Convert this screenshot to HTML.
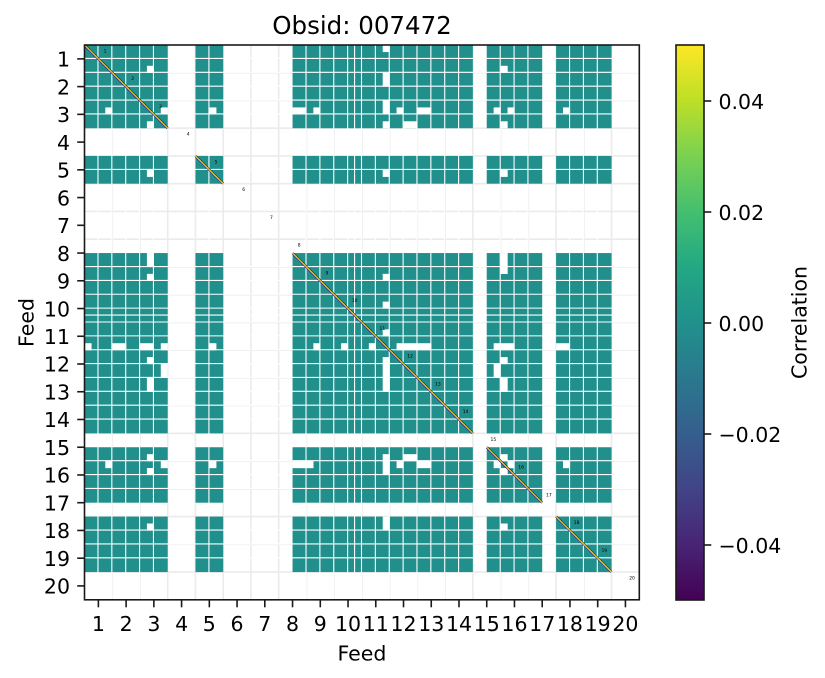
<!DOCTYPE html>
<html>
<head>
<meta charset="utf-8">
<style>
  html, body { margin:0; padding:0; background:#ffffff; }
  svg { display:block; }
  text { font-family: "DejaVu Sans", "Liberation Sans", sans-serif; fill:#000; }
</style>
</head>
<body>
<svg width="825" height="678" viewBox="0 0 825 678" xmlns="http://www.w3.org/2000/svg">
  <defs>
    <linearGradient id="viridis" x1="0" y1="0" x2="0" y2="1">
      <stop offset="0" stop-color="#fde725"/>
      <stop offset="0.1" stop-color="#bddf26"/>
      <stop offset="0.2" stop-color="#7ad151"/>
      <stop offset="0.3" stop-color="#44bf70"/>
      <stop offset="0.4" stop-color="#22a884"/>
      <stop offset="0.5" stop-color="#21918c"/>
      <stop offset="0.6" stop-color="#2a788e"/>
      <stop offset="0.7" stop-color="#355f8d"/>
      <stop offset="0.8" stop-color="#414487"/>
      <stop offset="0.9" stop-color="#482475"/>
      <stop offset="1" stop-color="#440154"/>
    </linearGradient>
    <g id="patches">
      <rect x="9" y="3" width="1.02" height="1.02"/>
      <rect x="11" y="9" width="1.02" height="1.02"/>
      <rect x="18" y="9" width="1.02" height="1.02"/>
      <rect x="30" y="9" width="2.02" height="1.02"/>
      <rect x="33" y="9" width="1.02" height="1.02"/>
      <rect x="43" y="0" width="1.02" height="1.02"/>
      <rect x="43" y="4" width="1.02" height="2.02"/>
      <rect x="43" y="8" width="1.02" height="2.02"/>
      <rect x="43" y="11" width="1.02" height="1.02"/>
      <rect x="45" y="9" width="1.02" height="1.02"/>
      <rect x="48" y="9" width="2.02" height="1.02"/>
      <rect x="59" y="9" width="1.02" height="1.02"/>
      <rect x="61" y="9" width="1.02" height="1.02"/>
      <rect x="69" y="9" width="1.02" height="1.02"/>
      <rect x="46" y="11" width="2.02" height="1.02"/>
      <rect x="60" y="11" width="1.02" height="1.02"/>
      <rect x="60" y="3" width="1.02" height="1.02"/>
      <rect x="43" y="18" width="1.02" height="1.02"/>
      <rect x="60" y="18" width="1.02" height="1.02"/>
      <rect x="60" y="30" width="1.02" height="3.02"/>
      <rect x="43" y="33" width="1.02" height="1.02"/>
      <rect x="43" y="37" width="1.02" height="1.02"/>
      <rect x="43" y="41" width="1.02" height="1.02"/>
      <rect x="45" y="43" width="5.02" height="1.02"/>
      <rect x="59" y="43" width="3.02" height="1.02"/>
      <rect x="68" y="43" width="2.02" height="1.02"/>
      <rect x="60" y="45" width="1.02" height="1.02"/>
      <rect x="59" y="46" width="1.02" height="2.02"/>
      <rect x="60" y="48" width="1.02" height="2.02"/>
      <rect x="60" y="59" width="1.02" height="1.02"/>
      <rect x="61" y="60" width="1.02" height="1.02"/>
      <rect x="69" y="60" width="1.02" height="1.02"/>
    </g>
  </defs>

  <rect x="0" y="0" width="825" height="678" fill="#ffffff"/>

  <g stroke="#ebebeb" stroke-width="1.6">
    <line x1="112.24" y1="45" x2="112.24" y2="600"/>
    <line x1="139.98" y1="45" x2="139.98" y2="600"/>
    <line x1="167.72" y1="45" x2="167.72" y2="600"/>
    <line x1="195.46" y1="45" x2="195.46" y2="600"/>
    <line x1="223.2" y1="45" x2="223.2" y2="600"/>
    <line x1="250.94" y1="45" x2="250.94" y2="600"/>
    <line x1="278.68" y1="45" x2="278.68" y2="600"/>
    <line x1="306.42" y1="45" x2="306.42" y2="600"/>
    <line x1="334.16" y1="45" x2="334.16" y2="600"/>
    <line x1="361.9" y1="45" x2="361.9" y2="600"/>
    <line x1="389.64" y1="45" x2="389.64" y2="600"/>
    <line x1="417.38" y1="45" x2="417.38" y2="600"/>
    <line x1="445.12" y1="45" x2="445.12" y2="600"/>
    <line x1="472.86" y1="45" x2="472.86" y2="600"/>
    <line x1="500.6" y1="45" x2="500.6" y2="600"/>
    <line x1="528.34" y1="45" x2="528.34" y2="600"/>
    <line x1="556.08" y1="45" x2="556.08" y2="600"/>
    <line x1="583.82" y1="45" x2="583.82" y2="600"/>
    <line x1="611.56" y1="45" x2="611.56" y2="600"/>
    <line x1="84.5" y1="72.74" x2="639.3" y2="72.74"/>
    <line x1="84.5" y1="100.48" x2="639.3" y2="100.48"/>
    <line x1="84.5" y1="128.22" x2="639.3" y2="128.22"/>
    <line x1="84.5" y1="155.96" x2="639.3" y2="155.96"/>
    <line x1="84.5" y1="183.7" x2="639.3" y2="183.7"/>
    <line x1="84.5" y1="211.44" x2="639.3" y2="211.44"/>
    <line x1="84.5" y1="239.18" x2="639.3" y2="239.18"/>
    <line x1="84.5" y1="266.92" x2="639.3" y2="266.92"/>
    <line x1="84.5" y1="294.66" x2="639.3" y2="294.66"/>
    <line x1="84.5" y1="322.4" x2="639.3" y2="322.4"/>
    <line x1="84.5" y1="350.14" x2="639.3" y2="350.14"/>
    <line x1="84.5" y1="377.88" x2="639.3" y2="377.88"/>
    <line x1="84.5" y1="405.62" x2="639.3" y2="405.62"/>
    <line x1="84.5" y1="433.36" x2="639.3" y2="433.36"/>
    <line x1="84.5" y1="461.1" x2="639.3" y2="461.1"/>
    <line x1="84.5" y1="488.84" x2="639.3" y2="488.84"/>
    <line x1="84.5" y1="516.58" x2="639.3" y2="516.58"/>
    <line x1="84.5" y1="544.32" x2="639.3" y2="544.32"/>
    <line x1="84.5" y1="572.06" x2="639.3" y2="572.06"/>
  </g>

  <g transform="translate(84.5 45) scale(6.935)" fill="#21908c">
    <rect x="0" y="0" width="12" height="12"/>
    <rect x="16" y="0" width="4" height="12"/>
    <rect x="30" y="0" width="26" height="12"/>
    <rect x="58" y="0" width="8" height="12"/>
    <rect x="68" y="0" width="8" height="12"/>
    <rect x="0" y="16" width="12" height="4"/>
    <rect x="16" y="16" width="4" height="4"/>
    <rect x="30" y="16" width="26" height="4"/>
    <rect x="58" y="16" width="8" height="4"/>
    <rect x="68" y="16" width="8" height="4"/>
    <rect x="0" y="30" width="12" height="26"/>
    <rect x="16" y="30" width="4" height="26"/>
    <rect x="30" y="30" width="26" height="26"/>
    <rect x="58" y="30" width="8" height="26"/>
    <rect x="68" y="30" width="8" height="26"/>
    <rect x="0" y="58" width="12" height="8"/>
    <rect x="16" y="58" width="4" height="8"/>
    <rect x="30" y="58" width="26" height="8"/>
    <rect x="58" y="58" width="8" height="8"/>
    <rect x="68" y="58" width="8" height="8"/>
    <rect x="0" y="68" width="12" height="8"/>
    <rect x="16" y="68" width="4" height="8"/>
    <rect x="30" y="68" width="26" height="8"/>
    <rect x="58" y="68" width="8" height="8"/>
    <rect x="68" y="68" width="8" height="8"/>
  </g>

  <g stroke="#ffffff" stroke-width="1.1">
    <line x1="97.97" y1="45" x2="97.97" y2="600"/>
    <line x1="111.84" y1="45" x2="111.84" y2="600"/>
    <line x1="125.71" y1="45" x2="125.71" y2="600"/>
    <line x1="139.58" y1="45" x2="139.58" y2="600"/>
    <line x1="153.45" y1="45" x2="153.45" y2="600"/>
    <line x1="208.93" y1="45" x2="208.93" y2="600"/>
    <line x1="306.02" y1="45" x2="306.02" y2="600"/>
    <line x1="319.89" y1="45" x2="319.89" y2="600"/>
    <line x1="333.76" y1="45" x2="333.76" y2="600"/>
    <line x1="347.63" y1="45" x2="347.63" y2="600"/>
    <line x1="354.57" y1="45" x2="354.57" y2="600"/>
    <line x1="361.5" y1="45" x2="361.5" y2="600"/>
    <line x1="375.37" y1="45" x2="375.37" y2="600"/>
    <line x1="389.24" y1="45" x2="389.24" y2="600"/>
    <line x1="403.11" y1="45" x2="403.11" y2="600"/>
    <line x1="416.98" y1="45" x2="416.98" y2="600"/>
    <line x1="430.85" y1="45" x2="430.85" y2="600"/>
    <line x1="444.72" y1="45" x2="444.72" y2="600"/>
    <line x1="458.59" y1="45" x2="458.59" y2="600"/>
    <line x1="500.2" y1="45" x2="500.2" y2="600"/>
    <line x1="514.07" y1="45" x2="514.07" y2="600"/>
    <line x1="527.94" y1="45" x2="527.94" y2="600"/>
    <line x1="569.55" y1="45" x2="569.55" y2="600"/>
    <line x1="583.42" y1="45" x2="583.42" y2="600"/>
    <line x1="597.29" y1="45" x2="597.29" y2="600"/>
    <line x1="84.5" y1="58.47" x2="639.3" y2="58.47"/>
    <line x1="84.5" y1="72.34" x2="639.3" y2="72.34"/>
    <line x1="84.5" y1="86.21" x2="639.3" y2="86.21"/>
    <line x1="84.5" y1="100.08" x2="639.3" y2="100.08"/>
    <line x1="84.5" y1="113.95" x2="639.3" y2="113.95"/>
    <line x1="84.5" y1="169.43" x2="639.3" y2="169.43"/>
    <line x1="84.5" y1="266.52" x2="639.3" y2="266.52"/>
    <line x1="84.5" y1="280.39" x2="639.3" y2="280.39"/>
    <line x1="84.5" y1="294.26" x2="639.3" y2="294.26"/>
    <line x1="84.5" y1="308.13" x2="639.3" y2="308.13"/>
    <line x1="84.5" y1="315.07" x2="639.3" y2="315.07"/>
    <line x1="84.5" y1="322.0" x2="639.3" y2="322.0"/>
    <line x1="84.5" y1="335.87" x2="639.3" y2="335.87"/>
    <line x1="84.5" y1="349.74" x2="639.3" y2="349.74"/>
    <line x1="84.5" y1="363.61" x2="639.3" y2="363.61"/>
    <line x1="84.5" y1="377.48" x2="639.3" y2="377.48"/>
    <line x1="84.5" y1="391.35" x2="639.3" y2="391.35"/>
    <line x1="84.5" y1="405.22" x2="639.3" y2="405.22"/>
    <line x1="84.5" y1="419.09" x2="639.3" y2="419.09"/>
    <line x1="84.5" y1="460.7" x2="639.3" y2="460.7"/>
    <line x1="84.5" y1="474.57" x2="639.3" y2="474.57"/>
    <line x1="84.5" y1="488.44" x2="639.3" y2="488.44"/>
    <line x1="84.5" y1="530.05" x2="639.3" y2="530.05"/>
    <line x1="84.5" y1="543.92" x2="639.3" y2="543.92"/>
    <line x1="84.5" y1="557.79" x2="639.3" y2="557.79"/>
  </g>

  <g fill="#ffffff">
    <use href="#patches" transform="translate(84.5 45) scale(6.935)"/>
    <use href="#patches" transform="translate(84.5 45) scale(6.935) matrix(0 1 1 0 0 0)"/>
  </g>

  <g stroke="#3b1c6e" stroke-width="2.4">
    <line x1="84.5" y1="45" x2="167.72" y2="128.22"/>
    <line x1="195.46" y1="155.96" x2="223.2" y2="183.7"/>
    <line x1="292.55" y1="253.05" x2="472.86" y2="433.36"/>
    <line x1="486.73" y1="447.23" x2="542.21" y2="502.71"/>
    <line x1="556.08" y1="516.58" x2="611.56" y2="572.06"/>
  </g>
  <g stroke="#fde725" stroke-width="1.1">
    <line x1="84.5" y1="45" x2="167.72" y2="128.22"/>
    <line x1="195.46" y1="155.96" x2="223.2" y2="183.7"/>
    <line x1="292.55" y1="253.05" x2="472.86" y2="433.36"/>
    <line x1="486.73" y1="447.23" x2="542.21" y2="502.71"/>
    <line x1="556.08" y1="516.58" x2="611.56" y2="572.06"/>
  </g>

  <g font-size="4.5" text-anchor="middle">
    <text x="105" y="52.5">1</text>
    <text x="132.74" y="80.24">2</text>
    <text x="160.48" y="107.98">3</text>
    <text x="188.22" y="135.72">4</text>
    <text x="215.96" y="163.46">5</text>
    <text x="243.7" y="191.2">6</text>
    <text x="271.44" y="218.94">7</text>
    <text x="299.18" y="246.68">8</text>
    <text x="326.92" y="274.42">9</text>
    <text x="354.66" y="302.16">10</text>
    <text x="382.4" y="329.9">11</text>
    <text x="410.14" y="357.64">12</text>
    <text x="437.88" y="385.38">13</text>
    <text x="465.62" y="413.12">14</text>
    <text x="493.36" y="440.86">15</text>
    <text x="521.1" y="468.6">16</text>
    <text x="548.84" y="496.34">17</text>
    <text x="576.58" y="524.08">18</text>
    <text x="604.32" y="551.82">19</text>
    <text x="632.06" y="579.56">20</text>
  </g>

  <rect x="84.5" y="45" width="554.8" height="554.8" fill="none" stroke="#1a1a1a" stroke-width="1.6"/>

  <g stroke="#1a1a1a" stroke-width="1.6">
    <line x1="98.37" y1="600" x2="98.37" y2="607.3"/>
    <line x1="126.11" y1="600" x2="126.11" y2="607.3"/>
    <line x1="153.85" y1="600" x2="153.85" y2="607.3"/>
    <line x1="181.59" y1="600" x2="181.59" y2="607.3"/>
    <line x1="209.33" y1="600" x2="209.33" y2="607.3"/>
    <line x1="237.07" y1="600" x2="237.07" y2="607.3"/>
    <line x1="264.81" y1="600" x2="264.81" y2="607.3"/>
    <line x1="292.55" y1="600" x2="292.55" y2="607.3"/>
    <line x1="320.29" y1="600" x2="320.29" y2="607.3"/>
    <line x1="348.03" y1="600" x2="348.03" y2="607.3"/>
    <line x1="375.77" y1="600" x2="375.77" y2="607.3"/>
    <line x1="403.51" y1="600" x2="403.51" y2="607.3"/>
    <line x1="431.25" y1="600" x2="431.25" y2="607.3"/>
    <line x1="458.99" y1="600" x2="458.99" y2="607.3"/>
    <line x1="486.73" y1="600" x2="486.73" y2="607.3"/>
    <line x1="514.47" y1="600" x2="514.47" y2="607.3"/>
    <line x1="542.21" y1="600" x2="542.21" y2="607.3"/>
    <line x1="569.95" y1="600" x2="569.95" y2="607.3"/>
    <line x1="597.69" y1="600" x2="597.69" y2="607.3"/>
    <line x1="625.43" y1="600" x2="625.43" y2="607.3"/>
    <line x1="77.2" y1="58.87" x2="84.5" y2="58.87"/>
    <line x1="77.2" y1="86.61" x2="84.5" y2="86.61"/>
    <line x1="77.2" y1="114.35" x2="84.5" y2="114.35"/>
    <line x1="77.2" y1="142.09" x2="84.5" y2="142.09"/>
    <line x1="77.2" y1="169.83" x2="84.5" y2="169.83"/>
    <line x1="77.2" y1="197.57" x2="84.5" y2="197.57"/>
    <line x1="77.2" y1="225.31" x2="84.5" y2="225.31"/>
    <line x1="77.2" y1="253.05" x2="84.5" y2="253.05"/>
    <line x1="77.2" y1="280.79" x2="84.5" y2="280.79"/>
    <line x1="77.2" y1="308.53" x2="84.5" y2="308.53"/>
    <line x1="77.2" y1="336.27" x2="84.5" y2="336.27"/>
    <line x1="77.2" y1="364.01" x2="84.5" y2="364.01"/>
    <line x1="77.2" y1="391.75" x2="84.5" y2="391.75"/>
    <line x1="77.2" y1="419.49" x2="84.5" y2="419.49"/>
    <line x1="77.2" y1="447.23" x2="84.5" y2="447.23"/>
    <line x1="77.2" y1="474.97" x2="84.5" y2="474.97"/>
    <line x1="77.2" y1="502.71" x2="84.5" y2="502.71"/>
    <line x1="77.2" y1="530.45" x2="84.5" y2="530.45"/>
    <line x1="77.2" y1="558.19" x2="84.5" y2="558.19"/>
    <line x1="77.2" y1="585.93" x2="84.5" y2="585.93"/>
  </g>

  <g font-size="20.5" text-anchor="middle">
    <text x="98.37" y="631">1</text>
    <text x="126.11" y="631">2</text>
    <text x="153.85" y="631">3</text>
    <text x="181.59" y="631">4</text>
    <text x="209.33" y="631">5</text>
    <text x="237.07" y="631">6</text>
    <text x="264.81" y="631">7</text>
    <text x="292.55" y="631">8</text>
    <text x="320.29" y="631">9</text>
    <text x="348.03" y="631">10</text>
    <text x="375.77" y="631">11</text>
    <text x="403.51" y="631">12</text>
    <text x="431.25" y="631">13</text>
    <text x="458.99" y="631">14</text>
    <text x="486.73" y="631">15</text>
    <text x="514.47" y="631">16</text>
    <text x="542.21" y="631">17</text>
    <text x="569.95" y="631">18</text>
    <text x="597.69" y="631">19</text>
    <text x="625.43" y="631">20</text>
  </g>

  <g font-size="20.5" text-anchor="end">
    <text x="70" y="66.6">1</text>
    <text x="70" y="94.3">2</text>
    <text x="70" y="122.1">3</text>
    <text x="70" y="149.8">4</text>
    <text x="70" y="177.6">5</text>
    <text x="70" y="205.3">6</text>
    <text x="70" y="233.0">7</text>
    <text x="70" y="260.8">8</text>
    <text x="70" y="288.5">9</text>
    <text x="70" y="316.3">10</text>
    <text x="70" y="344.0">11</text>
    <text x="70" y="371.7">12</text>
    <text x="70" y="399.5">13</text>
    <text x="70" y="427.2">14</text>
    <text x="70" y="455.0">15</text>
    <text x="70" y="482.7">16</text>
    <text x="70" y="510.4">17</text>
    <text x="70" y="538.2">18</text>
    <text x="70" y="565.9">19</text>
    <text x="70" y="593.7">20</text>
  </g>

  <text x="361.9" y="660.3" font-size="20.5" text-anchor="middle">Feed</text>
  <text transform="translate(33.3 322.5) rotate(-90)" font-size="20.5" text-anchor="middle">Feed</text>
  <text x="362" y="34" font-size="24.5" text-anchor="middle">Obsid: 007472</text>

  <rect x="676" y="45" width="28" height="555" fill="url(#viridis)"/>
  <rect x="676" y="45" width="28" height="555" fill="none" stroke="#1a1a1a" stroke-width="1.6"/>
  <g stroke="#1a1a1a" stroke-width="1.6">
    <line x1="704" y1="101" x2="711.3" y2="101"/>
    <line x1="704" y1="212" x2="711.3" y2="212"/>
    <line x1="704" y1="323" x2="711.3" y2="323"/>
    <line x1="704" y1="434" x2="711.3" y2="434"/>
    <line x1="704" y1="545" x2="711.3" y2="545"/>
  </g>
  <g font-size="20.5">
    <text x="718.5" y="109.2">0.04</text>
    <text x="718.5" y="220.2">0.02</text>
    <text x="718.5" y="331.2">0.00</text>
    <text x="718.5" y="442.2">−0.02</text>
    <text x="718.5" y="553.2">−0.04</text>
  </g>
  <text transform="translate(806.5 322.5) rotate(-90)" font-size="20.5" text-anchor="middle">Correlation</text>
</svg>
</body>
</html>
